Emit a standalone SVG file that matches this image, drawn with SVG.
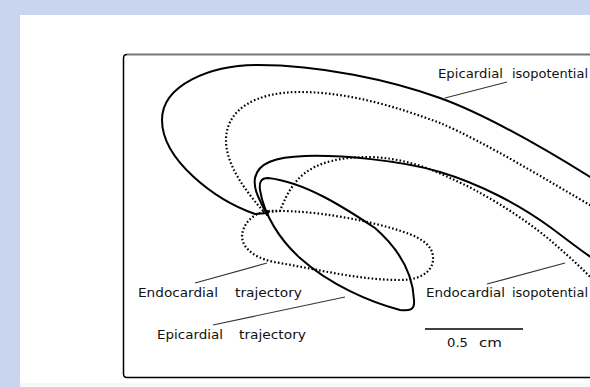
<svg xmlns="http://www.w3.org/2000/svg" width="590" height="387" viewBox="0 0 590 387">
<style>
.solid{fill:none;stroke:#000;stroke-width:2;stroke-linejoin:round;stroke-linecap:round}
.dot{fill:none;stroke:#000;stroke-width:2.2;stroke-dasharray:1.6 2.2}
.lead{fill:none;stroke:#333;stroke-width:1.1}
.lbl{font-family:"DejaVu Sans","Liberation Sans",sans-serif;font-size:11.5px;fill:#111}
</style>
<rect x="0" y="0" width="590" height="387" fill="#C9D5EE"/>
<rect x="20" y="15" width="570" height="372" fill="#FFFFFF"/>
<rect x="20" y="383" width="570" height="4" fill="#F7F7F7"/>
<g id="frame">
<path d="M 123.5 58 L 123.5 374 Q 123.5 377.5 127 377.5 L 595 377.5" fill="none" stroke="#000" stroke-width="1.5"/>
<path d="M 123.5 58 Q 123.5 54.5 127 54.5" fill="none" stroke="#000" stroke-width="1.5"/>
<path d="M 127 54.5 L 595 54.5" fill="none" stroke="#777" stroke-width="2"/>
</g>
<g id="epicardial-isopotential">
<path class="solid" d="M 268 213 L 255 214 C 215 200 162 160 162 120 C 162 85 210 65 258 65 C 320 65 390 80 440 98 C 490 116 555 155 595 180"/>
<path class="dot" d="M 263 211 C 245 190 226 165 226 140 C 226 110 255 92 300 92 C 350 92 400 108 440 123 C 485 142 550 182 595 208"/>
</g>
<g id="endocardial-isopotential">
<path class="solid" d="M 267 215 C 260 200 253 190 255 178 C 258 163 275 157 305 156 C 340 155 400 160 440 172 C 480 184 520 205 550 227 C 565 238 580 250 595 260"/>
<path class="dot" d="M 268 212 L 280 211 C 285 198 292 183 305 173 C 320 162 340 157 370 157 C 400 158 425 166 450 178 C 480 191 520 215 550 240 C 565 253 580 266 595 282"/>
</g>
<g id="epicardial-trajectory">
<path class="solid" d="M 260 190 C 259 182 261 178 268 178 C 305 182 345 208 375 228 C 400 250 413 275 414 300 C 415 310 410 311 400 310 C 370 302 330 285 300 258 C 280 240 264 215 260 190 Z"/>
</g>
<g id="endocardial-trajectory">
<path class="dot" d="M 268 211 C 252 213 242 225 242 237 C 243 250 258 260 280 263 C 320 270 360 280 400 280 C 425 280 434 268 433 257 C 432 240 410 233 380 225 C 340 215 300 210 268 211 Z"/>
</g>
<g id="connectors">
<line class="lead" x1="445" y1="98" x2="507" y2="82"/>
<line class="lead" x1="195" y1="283" x2="267" y2="263"/>
<line class="lead" x1="213" y1="325" x2="345" y2="297"/>
<line class="lead" x1="487" y1="284" x2="565" y2="263"/>
</g>
<g id="labels">
<text class="lbl" y="78"><tspan x="438" textLength="65" lengthAdjust="spacingAndGlyphs">Epicardial</tspan><tspan x="512" textLength="76" lengthAdjust="spacingAndGlyphs">isopotential</tspan></text>
<text class="lbl" y="297"><tspan x="138" textLength="80" lengthAdjust="spacingAndGlyphs">Endocardial</tspan><tspan x="235" textLength="67" lengthAdjust="spacingAndGlyphs">trajectory</tspan></text>
<text class="lbl" y="339"><tspan x="157" textLength="66" lengthAdjust="spacingAndGlyphs">Epicardial</tspan><tspan x="239" textLength="67" lengthAdjust="spacingAndGlyphs">trajectory</tspan></text>
<text class="lbl" y="297"><tspan x="426" textLength="79" lengthAdjust="spacingAndGlyphs">Endocardial</tspan><tspan x="512" textLength="76" lengthAdjust="spacingAndGlyphs">isopotential</tspan></text>
</g>
<g id="scale-bar">
<line x1="425" y1="329" x2="523" y2="329" stroke="#000" stroke-width="1.5"/>
<text class="lbl" y="347"><tspan x="447" textLength="21" lengthAdjust="spacingAndGlyphs">0.5</tspan><tspan x="479" textLength="23" lengthAdjust="spacingAndGlyphs">cm</tspan></text>
</g>
</svg>
